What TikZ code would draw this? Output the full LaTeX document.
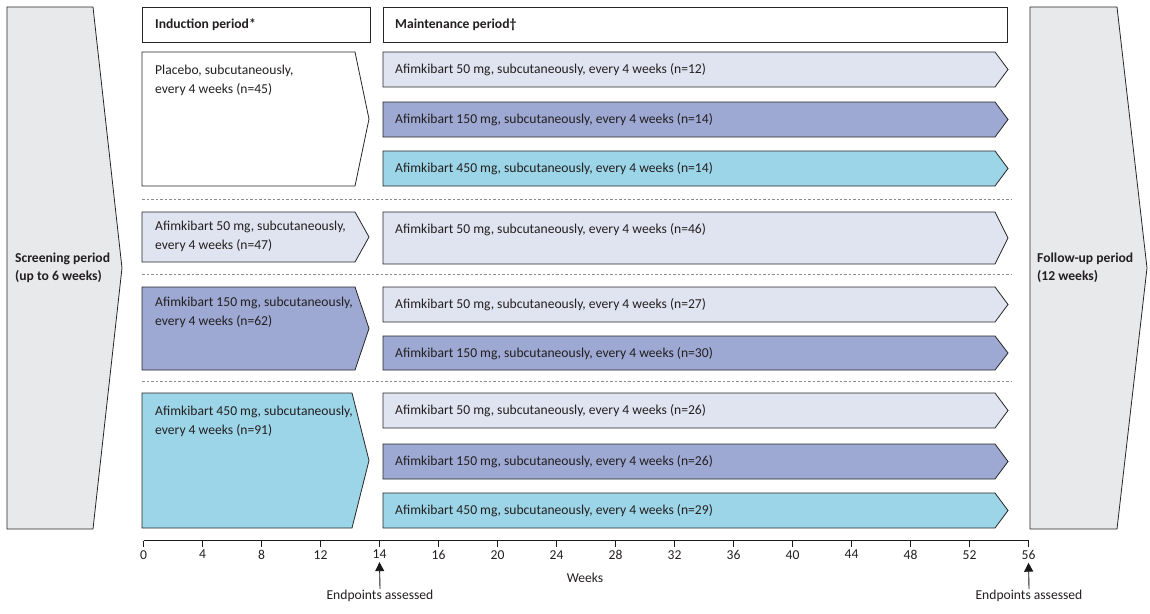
\documentclass[tikz,border=0pt]{standalone}
\usepackage{fontspec}
\setmainfont{Carlito}
\usetikzlibrary{arrows.meta}

\definecolor{txt}{HTML}{231F20}
\definecolor{lightarm}{HTML}{DFE4F0}
\definecolor{midarm}{HTML}{9DA9D3}
\definecolor{cyanarm}{HTML}{9CD5E7}
\definecolor{periodgray}{HTML}{E8E9EB}

\newcommand{\armbox}[6]{%
  \draw[boxline, fill=#6] (#1,#2) -- (#3,#2) -- (#5,{(#2+#4)/2}) -- (#3,#4) -- (#1,#4) -- cycle;}

\begin{document}
\begin{tikzpicture}[x=1pt, y=-1pt, font=\fontsize{13.6}{18.5}\selectfont, text=txt,
  boxline/.style={draw=black!85, line width=0.8pt},
  armtext/.style={anchor=north west, align=left, inner sep=0pt},
  headtext/.style={anchor=west, inner sep=0pt, font=\fontsize{13.6}{18.5}\selectfont\bfseries},
  sepline/.style={draw=black!45, dashed, dash pattern=on 2.5pt off 2pt, line width=0.8pt},
  tickl/.style={anchor=north, inner sep=0pt, font=\fontsize{13.6}{15}\selectfont},
  endp/.style={-{Triangle[length=9pt, width=9pt]}, line width=0.9pt, draw=black!90}
]
  \useasboundingbox (0,0) rectangle (1150,613);

  \armbox{7}{7}{93}{529}{122}{periodgray}
  \armbox{1030}{7}{1117}{529}{1147}{periodgray}
  \node[headtext, align=left] (scr) at (15,268) {Screening period\\(up to 6 weeks)};
  \node[headtext, align=left] (fol) at (1037,268) {Follow-up period\\(12 weeks)};

  \draw[boxline, fill=white] (142,7) rectangle (370,42);
  \draw[boxline, fill=white] (383,7) rectangle (1007,42);
  \node[headtext] (indh) at (155,25) {Induction period*};
  \node[headtext] (mainh) at (395,25) {Maintenance period†};

  \armbox{142}{52}{355}{186}{369}{white}
  \armbox{142}{212}{355}{262}{369}{lightarm}
  \armbox{142}{287}{355}{370}{369}{midarm}
  \armbox{142}{393}{352}{528}{369}{cyanarm}
  \node[armtext] (pla) at (155,65) {Placebo, subcutaneously,\\every 4 weeks (n=45)};
  \node[armtext] (ind50) at (155,221) {Afimkibart 50 mg, subcutaneously,\\every 4 weeks (n=47)};
  \node[armtext] (ind150) at (155,297) {Afimkibart 150 mg, subcutaneously,\\every 4 weeks (n=62)};
  \node[armtext] (ind450) at (155,406) {Afimkibart 450 mg, subcutaneously,\\every 4 weeks (n=91)};

  \armbox{383}{52}{995}{87}{1008}{lightarm}
  \armbox{383}{102}{995}{137}{1008}{midarm}
  \armbox{383}{151}{995}{186}{1008}{cyanarm}
  \armbox{383}{212}{995}{264}{1008}{lightarm}
  \armbox{383}{287}{995}{322}{1008}{lightarm}
  \armbox{383}{336}{995}{370}{1008}{midarm}
  \armbox{383}{393}{995}{428}{1008}{lightarm}
  \armbox{383}{444}{995}{479}{1008}{midarm}
  \armbox{383}{493}{995}{528}{1008}{cyanarm}
  \node[armtext] (pla50) at (395,63) {Afimkibart 50 mg, subcutaneously, every 4 weeks (n=12)};
  \node[armtext] (pla150) at (395,113) {Afimkibart 150 mg, subcutaneously, every 4 weeks (n=14)};
  \node[armtext] (pla450) at (395,162) {Afimkibart 450 mg, subcutaneously, every 4 weeks (n=14)};
  \node[armtext] (m50) at (395,223) {Afimkibart 50 mg, subcutaneously, every 4 weeks (n=46)};
  \node[armtext] (m150a) at (395,298) {Afimkibart 50 mg, subcutaneously, every 4 weeks (n=27)};
  \node[armtext] (m150b) at (395,347) {Afimkibart 150 mg, subcutaneously, every 4 weeks (n=30)};
  \node[armtext] (m450a) at (395,404) {Afimkibart 50 mg, subcutaneously, every 4 weeks (n=26)};
  \node[armtext] (m450b) at (395,455) {Afimkibart 150 mg, subcutaneously, every 4 weeks (n=26)};
  \node[armtext] (m450c) at (395,504) {Afimkibart 450 mg, subcutaneously, every 4 weeks (n=29)};

  \draw[sepline] (142,199) -- (1012,199);
  \draw[sepline] (142,274) -- (1012,274);
  \draw[sepline] (142,381) -- (1012,381);

  \draw[line width=0.9pt, draw=black!90] (143.5,540.5) -- (1028.5,540.5);
  \foreach \w [count=\i from 0] in {0,4,8,12,14,16,20,24,28,32,36,40,44,48,52,56} {
    \draw[line width=0.9pt, draw=black!90] ({143.5+59*\i},540.5) -- ({143.5+59*\i},547);
    \node[tickl] (t\w) at ({143.5+59*\i},550) {\w};
  }
  \node[inner sep=0pt] (wk) at (585,578) {Weeks};
  \node[inner sep=0pt] (ep14) at (380,596) {Endpoints assessed};
  \node[inner sep=0pt] (ep56) at (1029,596) {Endpoints assessed};
  \draw[endp] (ep14.north) ++(0,-1) -- ([yshift=-3pt]t14.south);
  \draw[endp] (ep56.north) ++(0,-1) -- ([yshift=-3pt]t56.south);
\end{tikzpicture}
\end{document}
